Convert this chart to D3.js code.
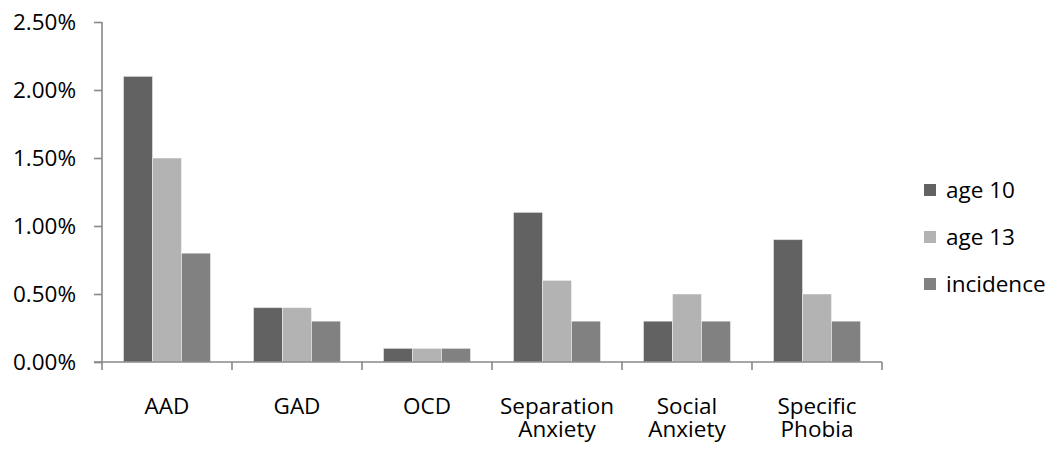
<!DOCTYPE html>
<html>
<head>
<meta charset="utf-8">
<script src="https://cdn.jsdelivr.net/npm/d3@7"></script>
<style>
  html, body { margin: 0; padding: 0; background: #fff; }
  svg { display: block; }
  text { font-family: "Open Sans", sans-serif; fill: #000; }
</style>
</head>
<body>
<svg id="chart" width="1059" height="453"></svg>
<script>
const categories = ["AAD", "GAD", "OCD", "Separation Anxiety", "Social Anxiety", "Specific Phobia"];
const categoryLines = [["AAD"], ["GAD"], ["OCD"], ["Separation", "Anxiety"], ["Social", "Anxiety"], ["Specific", "Phobia"]];
const seriesNames = ["age 10", "age 13", "incidence"];
const age10 = [0.021, 0.004, 0.001, 0.011, 0.003, 0.009];
const age13 = [0.015, 0.004, 0.001, 0.006, 0.005, 0.005];
const incidence = [0.008, 0.003, 0.001, 0.003, 0.003, 0.003];
const yTicks = [0, 0.005, 0.01, 0.015, 0.02, 0.025];
const colors = ["#626262", "#b3b3b3", "#818181"];

const seriesValues = [age10, age13, incidence];
const svg = d3.select("#chart");
const plotLeft = 102, plotRight = 882, plotTop = 22, plotBottom = 362;
const axisColor = "#888888";
const fontSize = 22.5;

const x0 = d3.scaleBand().domain(categories).range([plotLeft, plotRight])
  .paddingInner(43 / 130).paddingOuter(43 / 260);
const x1 = d3.scaleBand().domain(seriesNames).range([0, x0.bandwidth()]);
const y = d3.scaleLinear().domain([0, 0.025]).range([plotBottom, plotTop]);

// bars
const groups = svg.append("g").selectAll("g").data(categories).join("g")
  .attr("transform", d => `translate(${x0(d)},0)`);
groups.selectAll("rect")
  .data((d, i) => seriesNames.map((s, j) => ({ s, j, v: seriesValues[j][i] })))
  .join("rect")
  .attr("x", d => x1(d.s))
  .attr("width", x1.bandwidth())
  .attr("y", d => y(d.v))
  .attr("height", d => plotBottom - y(d.v))
  .attr("fill", d => colors[d.j])
  .attr("stroke", "#ffffff")
  .attr("stroke-opacity", 0.45)
  .attr("stroke-width", 1);

// y axis
const yAxis = svg.append("g").attr("transform", `translate(${plotLeft},0)`)
  .call(d3.axisLeft(y).tickValues(yTicks).tickFormat(d3.format(".2%")).tickSize(8).tickPadding(18));
yAxis.select(".domain").attr("stroke", axisColor).attr("stroke-width", 1.6).attr("d", `M0,${plotTop}V${plotBottom}`);
yAxis.selectAll(".tick line").attr("stroke", axisColor).attr("stroke-width", 1.6);
yAxis.selectAll(".tick text").attr("font-size", fontSize).attr("font-family", "Open Sans").attr("fill", "#000");

// x axis
const xTickPositions = d3.range(categories.length + 1).map(i => plotLeft + i * x0.step());
svg.append("line").attr("x1", plotLeft - 8).attr("x2", plotRight).attr("y1", plotBottom).attr("y2", plotBottom)
  .attr("stroke", axisColor).attr("stroke-width", 1.6);
svg.append("g").selectAll("line").data(xTickPositions).join("line")
  .attr("x1", d => d).attr("x2", d => d).attr("y1", plotBottom).attr("y2", plotBottom + 8)
  .attr("stroke", axisColor).attr("stroke-width", 1.6);

const labelData = [];
categories.forEach((c, i) => categoryLines[i].forEach((line, k) => labelData.push({ c, line, k })));
svg.append("g").selectAll("text").data(labelData).join("text")
  .attr("text-anchor", "middle")
  .attr("font-size", fontSize)
  .attr("x", d => x0(d.c) + x0.bandwidth() / 2)
  .attr("y", d => 414 + d.k * 23)
  .text(d => d.line);

// legend
const legend = svg.append("g").selectAll("g").data(seriesNames).join("g")
  .attr("transform", (d, i) => `translate(924,${190 + i * 47})`);
legend.append("rect").attr("x", 0).attr("y", -6).attr("width", 12).attr("height", 12)
  .attr("fill", (d, i) => colors[i]);
legend.append("text").attr("x", 22).attr("y", 0).attr("dy", "0.35em")
  .attr("font-size", fontSize).text(d => d);
</script>
</body>
</html>
